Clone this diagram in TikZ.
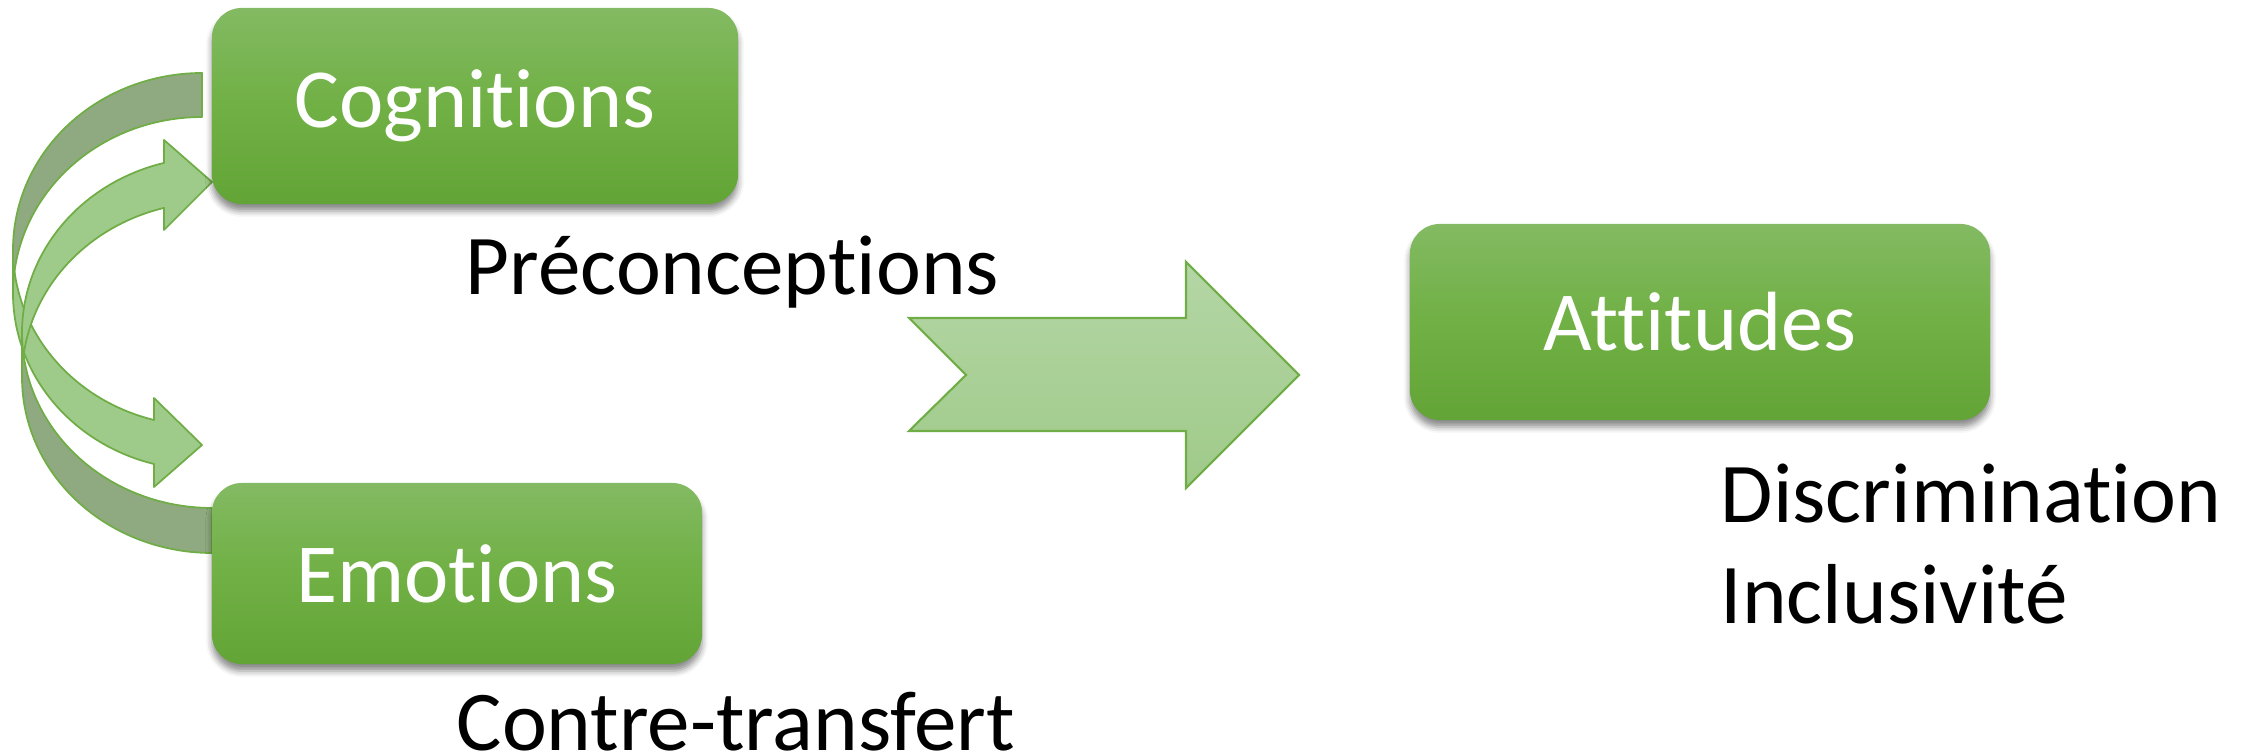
\documentclass[tikz,border=0pt]{standalone}
\usepackage{fontspec}
\setmainfont{Carlito}[Ligatures={NoCommon,NoContextual}]
\usetikzlibrary{shadows.blur}
\definecolor{boxtop}{RGB}{131,186,99}
\definecolor{boxmid}{RGB}{112,176,68}
\definecolor{boxbot}{RGB}{99,164,55}
\definecolor{lightband}{RGB}{159,203,138}
\definecolor{darkband}{RGB}{143,170,128}
\definecolor{edgegreen}{RGB}{112,173,71}
\definecolor{bigtop}{RGB}{180,214,165}
\definecolor{bigbot}{RGB}{159,202,137}
\begin{document}
\begin{tikzpicture}[x=0.01cm,y=-0.01cm,
  greenbox/.style={rectangle, rounded corners=0.3cm, top color=boxtop, bottom color=boxbot, middle color=boxmid,
    text=white, font=\fontsize{23.9pt}{28.7pt}\selectfont, inner sep=0pt,
    blur shadow={shadow xshift=0pt, shadow yshift=-0.07cm, shadow blur radius=0.06cm, shadow opacity=45}},
  plaintext/.style={inner sep=0pt, anchor=base west, text=black, font=\fontsize{24.2pt}{29pt}\selectfont},
  lightpart/.style={fill=lightband, draw=edgegreen, line width=0.5pt, line join=round},
  darkpart/.style={fill=darkband, draw=edgegreen, line width=0.5pt, line join=round},
  bigarrow/.style={top color=bigtop, bottom color=bigbot, draw=edgegreen, line width=0.6pt, line join=miter}
]
\useasboundingbox (0,0) rectangle (2246,755);

% curved arrow A: from Cognitions (back) down to Emotions (head)
\path[lightpart] plot[domain=180:104.7, samples=40] ({202+189*cos(\x)},{249.4+176.4*sin(\x)})
  -- (154,398) -- (202,445) -- (154,487)
  -- plot[domain=104.7:180, samples=40] ({202+189*cos(\x)},{293.4+176.4*sin(\x)}) -- cycle;
\path[darkpart] plot[domain=270:180, samples=40] ({202+189*cos(\x)},{293.4+176.4*sin(\x)})
  -- plot[domain=180:270, samples=40] ({202+189*cos(\x)},{249.4+176.4*sin(\x)}) -- cycle;

% curved arrow B: from Emotions (back) up to Cognitions (head)
\path[lightpart] plot[domain=180:255.4, samples=40] ({212+190*cos(\x)},{377.6+175.4*sin(\x)})
  -- (164,230) -- (212,182) -- (164,140)
  -- plot[domain=255.4:180, samples=40] ({212+190*cos(\x)},{332.6+175.4*sin(\x)}) -- cycle;
\path[darkpart] plot[domain=90:180, samples=40] ({212+190*cos(\x)},{332.6+175.4*sin(\x)})
  -- plot[domain=180:90, samples=40] ({212+190*cos(\x)},{377.6+175.4*sin(\x)}) -- cycle;

% big arrow
\path[bigarrow] (909,318) -- (1186,318) -- (1186,262) -- (1299,375) -- (1186,488)
  -- (1186,431) -- (909,431) -- (966,375) -- cycle;

% boxes
\node[greenbox, minimum width=5.26cm, minimum height=1.96cm] (cog) at (475,106) {Cognitions};
\node[greenbox, minimum width=4.90cm, minimum height=1.81cm] (emo) at (457,573.5) {Emotions};
\node[greenbox, minimum width=5.80cm, minimum height=1.96cm] (att) at (1700,322) {Attitudes};

% texts
\node[plaintext] (pre) at (465,295) {Préconceptions};
\node[plaintext] (ctr) at (456,750) {Contre-transfert};
\node[plaintext] (dis) at (1720,522) {Discrimination};
\node[plaintext] (inc) at (1720,623) {Inclusivité};
\end{tikzpicture}
\end{document}
